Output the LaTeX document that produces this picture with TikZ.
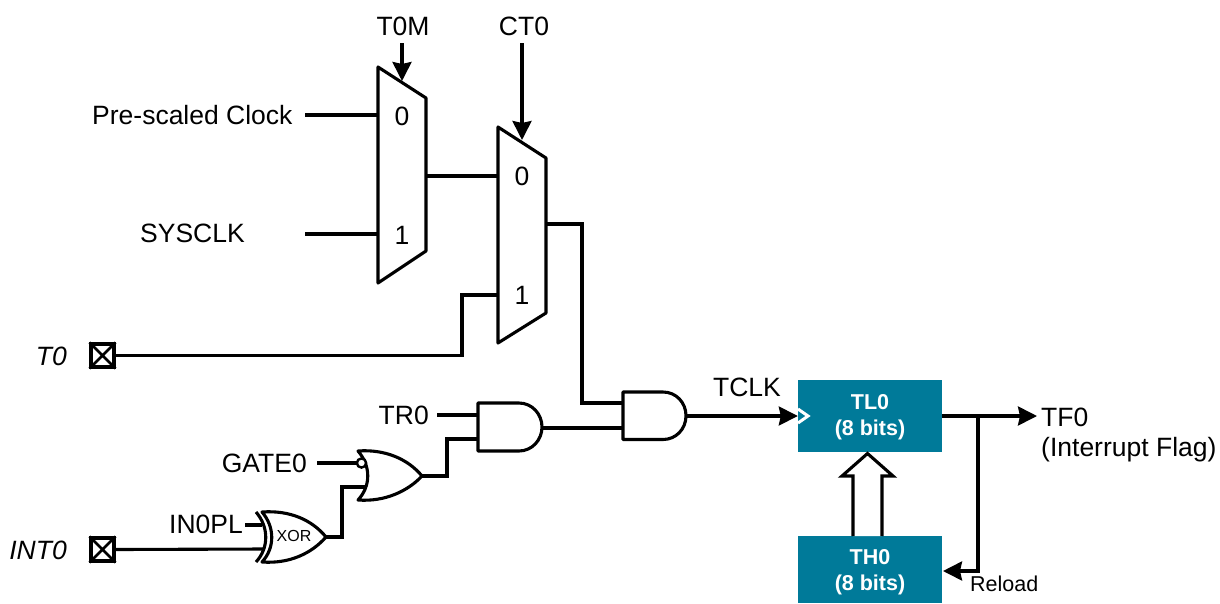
\documentclass[tikz,border=0pt]{standalone}
\usepackage{fontspec}
\setmainfont{Liberation Sans}
\usetikzlibrary{arrows.meta}
\definecolor{tealblock}{HTML}{007A99}
\tikzset{
  wire/.style={line width=3.1pt,line join=miter,draw=black},
  arrowwire/.style={wire,-{Stealth[length=19pt,width=19pt,inset=2pt]}},
  gate/.style={line width=3.1pt,draw=black,fill=white,line join=round},
  lab/.style={font=\fontsize{26.5}{28}\selectfont,inner sep=0pt,text=black},
  ilab/.style={lab,font=\fontsize{26.5}{28}\selectfont\itshape},
  block/.style={fill=tealblock,draw=none,minimum width=144pt,inner sep=0pt},
  blocktext/.style={inner sep=0pt,text=white,align=center,font=\fontsize{21.5}{26.5}\selectfont\bfseries},
  pad/.style={draw=black,line width=3.1pt,minimum size=23pt,inner sep=0pt},
}
\begin{document}
\begin{tikzpicture}[x=1pt,y=-1pt]
\useasboundingbox (0,0) rectangle (1220,603);
% ports
\coordinate (m1a) at (378,115);
\coordinate (m1b) at (378,234);
\coordinate (m1o) at (426,176);
\coordinate (m1s) at (402,81);
\coordinate (m2a) at (498,176);
\coordinate (m2b) at (498,295);
\coordinate (m2o) at (546,224);
\coordinate (m2s) at (522,140);
\coordinate (a2a) at (623,403);
\coordinate (a2b) at (623,428);
\coordinate (a2o) at (686,416);
\coordinate (a1a) at (478,415);
\coordinate (a1b) at (478,439);
\coordinate (a1o) at (542,428);
\coordinate (n1a) at (357,463);
\coordinate (n1b) at (365,487);
\coordinate (n1o) at (422,476);
\coordinate (x1a) at (262,525);
\coordinate (x1b) at (264,549);
\coordinate (x1o) at (326,537);
\coordinate (s1) at (305,115);
\coordinate (s2) at (305,234);
\coordinate (s3) at (402,43);
\coordinate (s4) at (522,43);
\coordinate (s5) at (437,415);
\coordinate (s6) at (317,463);
\coordinate (s7) at (245,525);
\coordinate (tap) at (978,416);
% blocks
\node[block,minimum height=72pt] (TL) at (870,416) {};
\node[block,minimum height=67pt] (TH) at (870,569.5) {};
\node[blocktext] (TLt) at (870,417) {TL0\\(8 bits)};
\node[blocktext] (THt) at (870,572) {TH0\\(8 bits)};
% pads
\node[pad] (p1) at (102.5,355.5) {};
\node[pad] (p2) at (102.5,549.5) {};
\draw[line width=2.6pt] (p1.north west)--(p1.south east) (p1.north east)--(p1.south west);
\draw[line width=2.6pt] (p2.north west)--(p2.south east) (p2.north east)--(p2.south west);
% wires
\draw[wire] (s1)--(m1a);
\draw[wire] (s2)--(m1b);
\draw[wire] (m1o)--(m2a);
\draw[wire] (p1.east) -- (462,355.5) |- (m2b);
\draw[wire] (m2o) -| (582,403) -- (a2a);
\draw[wire] (a1o)--(a2b);
\draw[wire] (s5)--(a1a);
\draw[wire] (n1o) -- (447,476) |- (a1b);
\draw[wire] (s6)--(n1a);
\draw[wire] (x1o) -- (342,537) |- (n1b);
\draw[wire] (s7)--(x1a);
\draw[wire] (p2.east)--(x1b);
% muxes
\draw[gate] (378,67)--(426,98)--(426,251)--(378,283)--cycle;
\draw[gate] (498,127)--(546,158)--(546,313)--(498,343)--cycle;
% and gates
\draw[gate] (519,403) -- (478,403) -- (478,451) -- (519,451) .. controls (532,451) and (542,440) .. (542,427) .. controls (542,414) and (532,403) .. (519,403) -- cycle;
\draw[gate] (663,392) -- (623,392) -- (623,439.5) -- (663,439.5) .. controls (676,439.5) and (686,429) .. (686,415.75) .. controls (686,402.5) and (676,392) .. (663,392) -- cycle;
% nor gate
\draw[gate] (358,451) .. controls (385,449) and (408,459) .. (422,476) .. controls (408,491) and (385,502) .. (358,500) .. controls (371,486) and (371,466) .. (358,451) -- cycle;
\draw[line width=2.4pt,draw=black,fill=white] (361.5,463) circle[radius=4.6];
% xor gate
\draw[gate] (262,512) .. controls (290,510) and (312,520) .. (326,537) .. controls (312,553) and (290,564) .. (262,562) .. controls (275,548) and (275,527) .. (262,512) -- cycle;
\draw[line width=3.1pt] (256,512) .. controls (269,527) and (269,548) .. (256,562);
% arrows
\draw[arrowwire] (s3)--(m1s);
\draw[arrowwire] (s4)--(m2s);
\draw[arrowwire] (a2o)--(TL.west |- a2o);
\draw[arrowwire] (TL.east |- tap)--(1037,416);
\draw[arrowwire] (tap)--(978,571)--(943,571);
% hollow arrow
\draw[gate,line join=miter] (853,536)--(853,476)--(842,476)--(867.5,453.5)--(893,476)--(882,476)--(882,536);
% clock chevron
\draw[draw=white,line width=3pt,line join=miter] (798,409)--(808,416)--(798,423);
% labels
\node[lab,anchor=west] (t1) at (92,115) {Pre-scaled Clock};
\node[lab,anchor=west] (t2) at (140,233) {SYSCLK};
\node[lab] (t3) at (403,26) {T0M};
\node[lab] (t4) at (524,26) {CT0};
\node[lab] (t5) at (402,116) {0};
\node[lab] (t6) at (402,235) {1};
\node[lab] (t7) at (522,176) {0};
\node[lab] (t8) at (522,295) {1};
\node[ilab,anchor=east] (t9) at (67,356) {T0};
\node[ilab,anchor=east] (t10) at (67,550) {INT0};
\node[lab,anchor=east] (t11) at (243,524) {IN0PL};
\node[lab,anchor=east] (t12) at (307,463) {GATE0};
\node[lab,anchor=east] (t13) at (429,415) {TR0};
\node[lab] (t14) at (747,387) {TCLK};
\node[lab,anchor=west] (t15) at (1041,417) {TF0};
\node[lab,anchor=west] (t16) at (1041,450) {(Interrupt Flag)};
\node[lab,anchor=west,font=\fontsize{21.5}{24}\selectfont] (t17) at (970,584) {Reload};
\node[lab,font=\fontsize{16}{18}\selectfont] (t18) at (294,536) {XOR};
\end{tikzpicture}
\end{document}
